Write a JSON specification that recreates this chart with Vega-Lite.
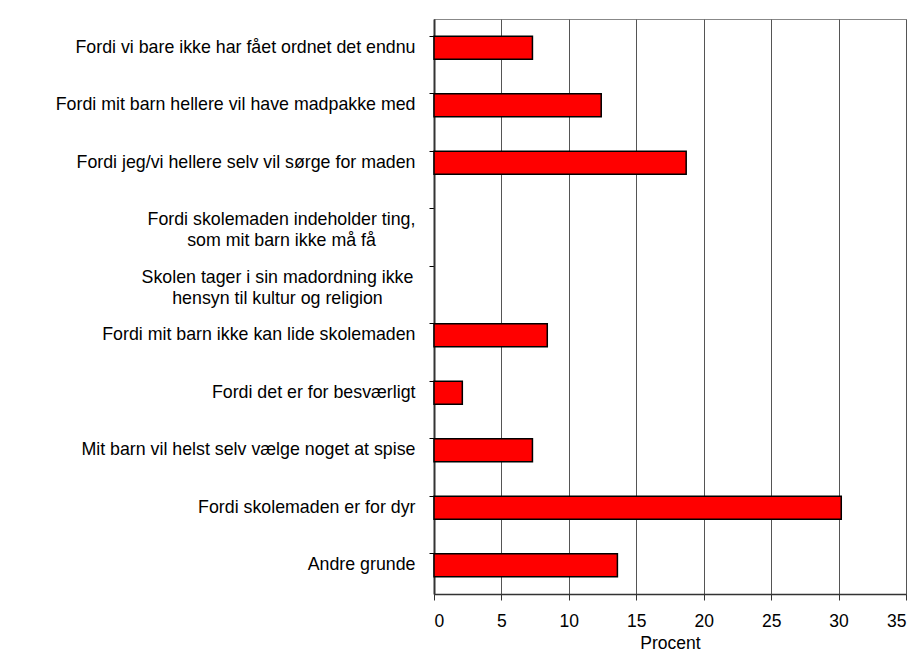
{
  "$schema": "https://vega.github.io/schema/vega-lite/v6.json",
  "autosize": "none",
  "width": 472,
  "height": 575,
  "padding": {"left": 434, "top": 19, "right": 7, "bottom": 58},
  "background": "white",
  "config": {
    "font": "Liberation Sans",
    "view": {"stroke": "#888888", "strokeWidth": 1}
  },
  "data": {
    "values": [
      {"grund": "Fordi vi bare ikke har fået ordnet det endnu", "procent": 7.3},
      {"grund": "Fordi mit barn hellere vil have madpakke med", "procent": 12.4},
      {"grund": "Fordi jeg/vi hellere selv vil sørge for maden", "procent": 18.7},
      {"grund": "Fordi skolemaden indeholder ting,|som mit barn ikke må få", "procent": 0},
      {"grund": "Skolen tager i sin madordning ikke|hensyn til kultur og religion", "procent": 0},
      {"grund": "Fordi mit barn ikke kan lide skolemaden", "procent": 8.4},
      {"grund": "Fordi det er for besværligt", "procent": 2.1},
      {"grund": "Mit barn vil helst selv vælge noget at spise", "procent": 7.3},
      {"grund": "Fordi skolemaden er for dyr", "procent": 30.2},
      {"grund": "Andre grunde", "procent": 13.6}
    ]
  },
  "mark": {"type": "bar", "color": "#FF0000", "stroke": "#000000", "strokeWidth": 1.5},
  "encoding": {
    "strokeOpacity": {
      "condition": {"test": "datum.procent == 0", "value": 0},
      "value": 1
    },
    "y": {
      "field": "grund",
      "type": "nominal",
      "sort": null,
      "scale": {"paddingInner": 0.6, "paddingOuter": 0.3},
      "axis": {
        "title": null,
        "bandPosition": 0,
        "labelExpr": "split(datum.label, '|')",
        "labelFontSize": 17.8,
        "labelColor": "#000000",
        "labelLineHeight": 21,
        "labelAlign": {"condition": {"test": "indexof(datum.value, '|') >= 0", "value": "center"}, "value": "right"},
        "labelPadding": {"condition": [
          {"test": "indexof(datum.value, 'Skolen') == 0", "value": 152},
          {"test": "indexof(datum.value, '|') >= 0", "value": 148}
        ], "value": 14},
        "labelLimit": 430,
        "tickSize": 5,
        "tickColor": "#000000",
        "domainColor": "#333333",
        "domainWidth": 2,
        "grid": false
      }
    },
    "x": {
      "field": "procent",
      "type": "quantitative",
      "scale": {"domain": [0, 35], "nice": false},
      "axis": {
        "title": "Procent",
        "values": [0, 5, 10, 15, 20, 25, 30, 35],
        "labelFontSize": 17.5,
        "labelColor": "#000000",
        "labelPadding": 12,
        "titleFontSize": 17.5,
        "titleFontWeight": "normal",
        "titleColor": "#000000",
        "titlePadding": 5,
        "tickSize": 6,
        "tickColor": "#333333",
        "domainColor": "#333333",
        "domainWidth": 1.5,
        "grid": true,
        "gridColor": "#555555",
        "gridWidth": 1,
        "gridOpacity": 1
      }
    }
  }
}
